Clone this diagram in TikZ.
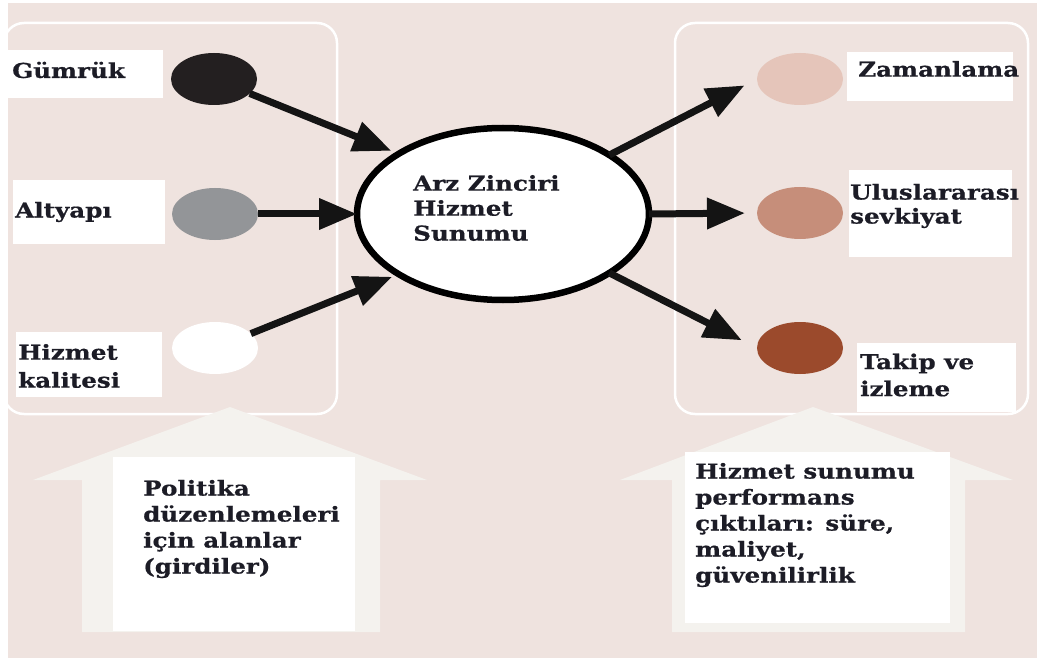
\documentclass[tikz,border=0pt]{standalone}
\usepackage{fontspec}
\usetikzlibrary{shapes.geometric,arrows.meta}
\newfontfamily\lblfont{DejaVu Serif}[FakeStretch=1.2,FakeBold=0.7]
\definecolor{bgpink}{HTML}{EFE3DF}
\definecolor{bigarrow}{HTML}{F4F2EE}
\definecolor{inkdark}{HTML}{1C1C26}
\definecolor{dotblack}{HTML}{231F20}
\definecolor{dotgray}{HTML}{939598}
\definecolor{dotlight}{HTML}{E5C5BA}
\definecolor{dotmid}{HTML}{C68E7A}
\definecolor{dotdark}{HTML}{9B4A2C}
\tikzset{
  panel/.style={draw=white,line width=2.5pt,rounded corners=20pt},
  dot/.style={ellipse,minimum width=86pt,minimum height=52pt,inner sep=0pt,outer sep=0pt},
  labelbox/.style={fill=white,inner sep=0pt,outer sep=0pt,anchor=north west},
  txt/.style={font=\lblfont\bfseries\fontsize{20.5}{26}\selectfont,text=inkdark,
    align=left,anchor=west,inner sep=0pt},
  flow/.style={draw=black!92,line width=7pt,-{Triangle[length=38pt,width=30pt]}},
}
\begin{document}
\begin{tikzpicture}[x=1pt,y=-1pt]
\useasboundingbox (0,0) rectangle (1037,658);
% page background with a thin white margin on top and left
\fill[white] (0,0) rectangle (1037,658);
\fill[bgpink] (8,3) rectangle (1037,658);

% two rounded panels
\draw[panel] (4,23) rectangle (337,414);
\draw[panel] (675,23) rectangle (1028,414);

% wide upward arrows behind the bottom captions
\fill[bigarrow] (230,407) -- (427,480) -- (380,480) -- (380,632) -- (82,632)
  -- (82,480) -- (33,480) -- cycle;
\fill[bigarrow] (813,407) -- (1013,480) -- (965,480) -- (965,632) -- (672,632)
  -- (672,480) -- (620,480) -- cycle;

% white label boxes
\node[labelbox,minimum width=155pt,minimum height=48pt] (gbox) at (8,50) {};
\node[labelbox,minimum width=152pt,minimum height=64pt] (abox) at (13,180) {};
\node[labelbox,minimum width=146pt,minimum height=65pt] (hbox) at (16,332) {};
\node[labelbox,minimum width=166pt,minimum height=49pt] (zbox) at (847,52) {};
\node[labelbox,minimum width=163pt,minimum height=87pt] (ubox) at (849,170) {};
\node[labelbox,minimum width=159pt,minimum height=69pt] (tbox) at (857,343) {};
\node[labelbox,minimum width=242pt,minimum height=174pt] (pbox) at (113,457) {};
\node[labelbox,minimum width=265pt,minimum height=171pt] (obox) at (685,452) {};

% input and output dots
\node[dot,fill=dotblack] (g) at (214,79) {};
\node[dot,fill=dotgray] (a) at (215,214) {};
\node[dot,fill=white] (h) at (215,348) {};
\node[dot,fill=dotlight] (z) at (800,79) {};
\node[dot,fill=dotmid] (u) at (800,213) {};
\node[dot,fill=dotdark] (t) at (800,348) {};

% central service node
\node[ellipse,draw=black,fill=white,line width=6.5pt,minimum width=292pt,
  minimum height=172pt,inner sep=0pt,outer sep=0pt] (c) at (503,214) {};

% texts
\node[txt] (gtxt) at (12,70) {Gümrük};
\node[txt] (atxt) at (15,212) {Altyapı};
\node[txt,font=\lblfont\bfseries\fontsize{20.5}{28}\selectfont] (htxt) at (18,366) {Hizmet\\kalitesi};
\node[txt] (ztxt) at (858,69) {Zamanlama};
\node[txt,font=\lblfont\bfseries\fontsize{20.5}{24}\selectfont] (utxt) at (850,206) {Uluslararası\\sevkiyat};
\node[txt,font=\lblfont\bfseries\fontsize{20.5}{27}\selectfont] (ttxt) at (860,375) {Takip ve\\izleme};
\node[txt,font=\lblfont\bfseries\fontsize{20.5}{25}\selectfont] (ctxt) at (413,208) {Arz Zinciri\\Hizmet\\Sunumu};
\node[txt] (ptxt) at (143,529) {Politika\\düzenlemeleri\\için alanlar\\(girdiler)};
\node[txt] (otxt) at (695,525) {Hizmet sunumu\\performans\\çıktıları: süre,\\maliyet,\\güvenilirlik};

% connectors
\draw[flow,shorten >=8pt] (g) -- (c.150.5);
\draw[flow] (a) -- (c.west);
\draw[flow,shorten >=7pt] (h) -- (c.210);
\draw[flow,shorten >=14pt] (c.29) -- (z.west);
\draw[flow,shorten >=12pt] (c.east) -- (u.west);
\draw[flow,shorten >=17pt] (c.-29) -- (t.west);
\end{tikzpicture}
\end{document}
